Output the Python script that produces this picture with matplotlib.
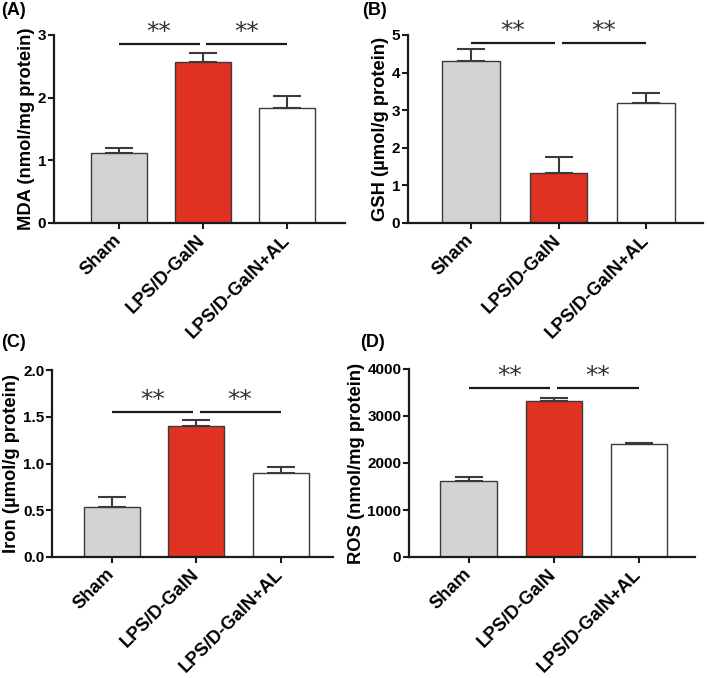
import matplotlib
matplotlib.use("Agg")
import matplotlib.pyplot as plt
from matplotlib.ticker import FixedLocator, FormatStrFormatter

plt.rcParams['font.family'] = ['Liberation Sans', 'DejaVu Sans']
plt.rcParams['font.weight'] = 'bold'

groups = ["Sham", "LPS/D-GalN", "LPS/D-GalN+AL"]
colors = ["#D3D3D3", "#DF3222", "#FFFFFF"]

mda_mean = [1.12, 2.57, 1.83]
mda_err = [0.08, 0.15, 0.19]
gsh_mean = [4.30, 1.34, 3.18]
gsh_err = [0.32, 0.42, 0.29]
iron_mean = [0.54, 1.40, 0.90]
iron_err = [0.10, 0.07, 0.06]
ros_mean = [1615, 3327, 2410]
ros_err = [85, 60, 20]

mda_ticks = [0, 1, 2, 3]
gsh_ticks = [0, 1, 2, 3, 4, 5]
iron_ticks = [0.0, 0.5, 1.0, 1.5, 2.0]
ros_ticks = [0, 1000, 2000, 3000, 4000]

sig_levels = [2.85, 4.79, 1.546, 3600]
sig_text = "**"

panels = [
    ("(A)", "MDA (nmol/mg protein)", mda_mean, mda_err, mda_ticks, "%d"),
    ("(B)", "GSH (µmol/g protein)", gsh_mean, gsh_err, gsh_ticks, "%d"),
    ("(C)", "Iron (µmol/g protein)", iron_mean, iron_err, iron_ticks, "%.1f"),
    ("(D)", "ROS (nmol/mg protein)", ros_mean, ros_err, ros_ticks, "%d"),
]

W, H = 709, 678
# axes rectangles in pixels: left, top, right, bottom
rects_px = [
    (54, 35, 345, 223),
    (408, 35, 703, 223),
    (52, 370, 333, 557),
    (409, 369, 695, 557),
]
xlims = [(-0.77, 2.69), (-0.72, 2.65), (-0.71, 2.62), (-0.70, 2.66)]
label_pos = [(1, 2), (362, 2), (1, 334), (360, 334)]

fig = plt.figure(figsize=(W / 100, H / 100), dpi=100)

for i, (plabel, ylabel, mean, err, ticks, fmt) in enumerate(panels):
    l, t, r, b = rects_px[i]
    ax = fig.add_axes([l / W, 1 - b / H, (r - l) / W, (b - t) / H])
    x = list(range(len(groups)))
    ax.bar(x, mean, width=0.66, color=colors, edgecolor="#3a3a3a", linewidth=1.0, zorder=2)
    ax.errorbar(x, mean, yerr=[[0] * len(err), err], fmt="none", ecolor="#3a3a3a",
                elinewidth=1.5, capsize=10, capthick=1.5, zorder=1)
    ax.set_xlim(*xlims[i])
    ax.set_ylim(ticks[0], ticks[-1])
    ax.yaxis.set_major_locator(FixedLocator(ticks))
    ax.yaxis.set_major_formatter(FormatStrFormatter(fmt))
    ax.set_xticks(x)
    ax.set_xticklabels(groups, rotation=45, ha="right", va="center",
                       rotation_mode="anchor", fontsize=13.2, fontweight="bold")
    ax.tick_params(axis="x", pad=6)
    for s in ["top", "right"]:
        ax.spines[s].set_visible(False)
    for s in ["left", "bottom"]:
        ax.spines[s].set_linewidth(1.6)
        ax.spines[s].set_color("#1a1a1a")
    ax.tick_params(axis="both", width=1.5, length=4.5, color="#1a1a1a")
    ax.tick_params(axis="y", labelsize=11, pad=1)
    for lab in ax.get_yticklabels():
        lab.set_fontweight("bold")
    ax.set_ylabel(ylabel, fontsize=13.2, fontweight="bold", labelpad=2)

    yv = sig_levels[i]
    gap = 0.04
    ax.plot([0, 1 - gap], [yv, yv], color="#1a1a1a", lw=1.6, clip_on=False, solid_capstyle="butt")
    ax.plot([1 + gap, 2], [yv, yv], color="#1a1a1a", lw=1.6, clip_on=False, solid_capstyle="butt")
    for cx in [(0 + 1 - gap) / 2, (1 + gap + 2) / 2]:
        ax.annotate(sig_text, xy=(cx, yv), xytext=(0, 0), textcoords="offset points",
                    ha="center", va="bottom", fontsize=18, fontweight="normal",
                    family="DejaVu Sans", color="#333333", annotation_clip=False)

    fig.text(label_pos[i][0] / W, 1 - label_pos[i][1] / H, plabel, fontsize=13,
             fontweight="bold", ha="left", va="top")

fig.savefig("out.png", dpi=100)
